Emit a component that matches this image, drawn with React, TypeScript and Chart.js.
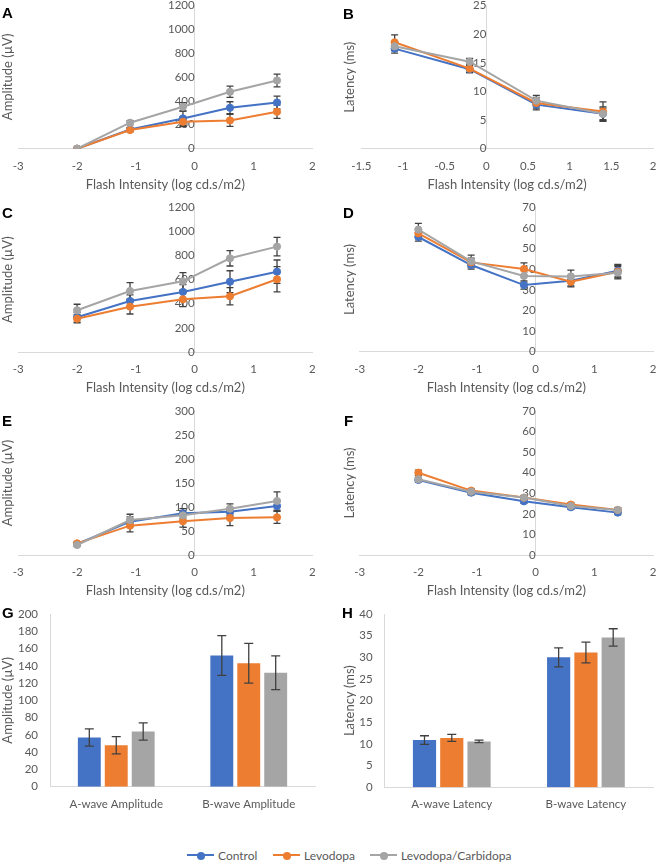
import React, { useEffect, useRef } from "react";
import { Chart, registerables } from "chart.js";

Chart.register(...registerables);
Chart.defaults.font.family = "Lato, 'Open Sans', sans-serif";

// ---------- data ----------
const seriesNames = ["Control", "Levodopa", "Levodopa/Carbidopa"];
const seriesColors = ["#4472C4", "#ED7D31", "#A5A5A5"];

const flashIntensity = [-2, -1.1, -0.2, 0.6, 1.4];
const flashIntensityB = [-1.1, -0.2, 0.6, 1.4];
const xTitle = "Flash Intensity (log cd.s/m2)";
const ampTitle = "Amplitude (\u00b5V)";
const latTitle = "Latency (ms)";

// Panel A – amplitude
const aControl = [0, 160, 253, 342, 386];
const aLevodopa = [0, 156, 225, 236, 309];
const aCombo = [0, 217, 350, 475, 570];
const aControlErr = [0, 15, 60, 50, 53];
const aLevodopaErr = [0, 15, 40, 50, 55];
const aComboErr = [0, 18, 35, 47, 53];

// Panel B – latency
const bControl = [17.5, 13.9, 7.7, 6.1];
const bLevodopa = [18.6, 14.0, 8.0, 6.5];
const bCombo = [17.9, 15.2, 8.4, 6.1];
const bControlErr = [0.8, 0.6, 0.9, 1.2];
const bLevodopaErr = [1.3, 0.7, 0.9, 1.7];
const bComboErr = [0.8, 0.6, 0.9, 1.0];

// Panel C – amplitude
const cControl = [288, 423, 498, 583, 666];
const cLevodopa = [276, 376, 437, 462, 603];
const cCombo = [346, 506, 586, 777, 874];
const cControlErr = [40, 50, 60, 91, 97];
const cLevodopaErr = [35, 61, 60, 72, 105];
const cComboErr = [50, 69, 72, 64, 77];

// Panel D – latency
const dControl = [55.6, 42.0, 32.3, 34.4, 39.3];
const dLevodopa = [57.4, 43.3, 40.1, 33.9, 38.8];
const dCombo = [59.2, 43.8, 36.7, 36.5, 38.3];
const dControlErr = [2, 2, 2, 2.5, 3];
const dLevodopaErr = [2, 2, 3, 2.5, 3];
const dComboErr = [3, 3, 3, 3, 3];

// Panel E – amplitude
const eControl = [22.9, 69.4, 86.8, 90.3, 102];
const eLevodopa = [24.3, 61.1, 70.1, 77.1, 78.5];
const eCombo = [20.8, 72.9, 82.6, 96.5, 112.5];
const eControlErr = [3, 10, 10, 8, 10];
const eLevodopaErr = [3, 13, 12, 16, 12.5];
const eComboErr = [3, 12, 10, 10, 19];

// Panel F – latency
const fControl = [36.5, 30.3, 26.1, 23.2, 20.6];
const fLevodopa = [40.0, 31.3, 27.9, 24.5, 21.9];
const fCombo = [36.8, 30.8, 27.9, 23.8, 21.9];
const fControlErr = [1, 1, 1, 1, 1];
const fLevodopaErr = [1.3, 1, 1, 1, 1];
const fComboErr = [1, 1, 1, 1, 1];

// Panel G – amplitude bars
const gCategories = ["A-wave Amplitude", "B-wave Amplitude"];
const gControl = [57, 152];
const gLevodopa = [48, 143];
const gCombo = [64, 132];
const gControlErr = [10, 23];
const gLevodopaErr = [10, 23];
const gComboErr = [10, 19.5];

// Panel H – latency bars
const hCategories = ["A-wave Latency", "B-wave Latency"];
const hControl = [10.9, 30.0];
const hLevodopa = [11.4, 31.1];
const hCombo = [10.6, 34.6];
const hControlErr = [1.0, 2.2];
const hLevodopaErr = [0.8, 2.4];
const hComboErr = [0.3, 2.0];

// ---------- styling ----------
const TEXT = "#595959";
const AXIS = "#d9d9d9";
const ERR = "#404040";
const TICK_FONT = { size: 11.5 };
const TITLE_FONT = { size: 13 };
const fmt = (v: any) => String(Number(Number(v).toFixed(3)));

const errorBarsPlugin = {
  id: "errorBars",
  beforeDatasetsDraw(chart: any) {
    const o = chart.options.plugins.errorBars || {};
    if (!o.above) drawErrors(chart, o.cap || 3.5);
  },
  afterDatasetsDraw(chart: any) {
    const o = chart.options.plugins.errorBars || {};
    if (o.above) drawErrors(chart, o.cap || 3.5);
  },
};

function drawErrors(chart: any, cap: number) {
  const ctx = chart.ctx;
  const yScale = chart.scales.y;
  ctx.save();
  ctx.strokeStyle = ERR;
  ctx.lineWidth = 1.3;
  chart.data.datasets.forEach((ds: any, i: number) => {
    const errs = ds.errors;
    if (!errs) return;
    const meta = chart.getDatasetMeta(i);
    meta.data.forEach((el: any, j: number) => {
      const e = errs[j];
      if (!e) return;
      const raw = ds.data[j];
      const v = typeof raw === "number" ? raw : raw.y;
      const x = el.x;
      const y1 = yScale.getPixelForValue(v + e);
      const y2 = yScale.getPixelForValue(v - e);
      ctx.beginPath();
      ctx.moveTo(x, y1);
      ctx.lineTo(x, y2);
      ctx.moveTo(x - cap, y1);
      ctx.lineTo(x + cap, y1);
      ctx.moveTo(x - cap, y2);
      ctx.lineTo(x + cap, y2);
      ctx.stroke();
    });
  });
  ctx.restore();
}

type Box = { left: number; top: number; w: number; h: number; cl: number; cr: number; ct: number; cb: number; tx: number };

const XH = 44; // x-axis band height (line panels)
const XB = 30; // x-axis band height (bar panels)
const HALF_TITLE = 7.8;

function lineConfig(box: Box, xs: number[], series: number[][], errs: number[][], xmin: number, xmax: number, xstep: number, ymax: number, ystep: number, yTitle: string) {
  const padL = box.tx - HALF_TITLE;
  return {
    type: "scatter",
    data: {
      datasets: series.map((s, i) => ({
        label: seriesNames[i],
        data: xs.map((x, j) => ({ x, y: s[j] })),
        errors: errs[i],
        showLine: true,
        borderColor: seriesColors[i],
        backgroundColor: seriesColors[i],
        pointBackgroundColor: seriesColors[i],
        pointBorderColor: seriesColors[i],
        borderWidth: 2,
        pointRadius: 3.6,
        pointBorderWidth: 1,
        order: 2 - i,
      })),
    },
    options: {
      responsive: false,
      animation: false,
      layout: { padding: { left: padL, right: box.w - box.cr, top: box.ct, bottom: box.h - box.cb - XH } },
      plugins: { legend: { display: false }, tooltip: { enabled: false }, errorBars: { above: false, cap: 3.5 } },
      scales: {
        x: {
          type: "linear",
          min: xmin,
          max: xmax,
          ticks: { stepSize: xstep, color: TEXT, font: TICK_FONT, padding: 10.4, callback: fmt },
          grid: { display: false, drawTicks: false },
          border: { color: AXIS },
          title: { display: true, text: xTitle, color: TEXT, font: TITLE_FONT, padding: { top: 0, bottom: 0 } },
          afterFit: (s: any) => { s.height = XH; s.paddingLeft = 0; s.paddingRight = 0; },
        },
        y: {
          type: "linear",
          position: { x: 0 },
          min: 0,
          max: ymax,
          ticks: { stepSize: ystep, color: TEXT, font: TICK_FONT, padding: 12, callback: fmt },
          grid: { display: false, drawTicks: false },
          border: { color: AXIS },
          afterFit: (s: any) => { s.paddingTop = 0; s.paddingBottom = 0; },
        },
        yt: {
          type: "linear",
          position: "left",
          min: 0,
          max: 1,
          ticks: { display: false },
          grid: { display: false, drawTicks: false },
          border: { display: false },
          title: { display: true, text: yTitle, color: TEXT, font: TITLE_FONT, padding: { top: 0, bottom: 0 } },
          afterFit: (s: any) => { s.width = box.cl - padL; s.paddingTop = 0; s.paddingBottom = 0; },
        },
      },
    },
    plugins: [errorBarsPlugin],
  };
}

function barConfig(box: Box, cats: string[], series: number[][], errs: number[][], ymax: number, ystep: number, yTitle: string) {
  const padL = box.tx - HALF_TITLE;
  return {
    type: "bar",
    data: {
      labels: cats,
      datasets: series.map((s, i) => ({
        label: seriesNames[i],
        data: s,
        errors: errs[i],
        backgroundColor: seriesColors[i],
        categoryPercentage: 0.61,
        barPercentage: 0.85,
      })),
    },
    options: {
      responsive: false,
      animation: false,
      layout: { padding: { left: padL, right: box.w - box.cr, top: box.ct, bottom: box.h - box.cb - XB } },
      plugins: { legend: { display: false }, tooltip: { enabled: false }, errorBars: { above: true, cap: 4.5 } },
      scales: {
        x: {
          ticks: { color: TEXT, font: TICK_FONT, padding: 10.4 },
          grid: { display: false, drawTicks: false },
          border: { color: AXIS },
          afterFit: (s: any) => { s.height = XB; s.paddingLeft = 0; s.paddingRight = 0; },
        },
        y: {
          min: 0,
          max: ymax,
          ticks: { stepSize: ystep, color: TEXT, font: TICK_FONT, padding: 12, callback: fmt },
          grid: { display: false, drawTicks: false },
          border: { color: AXIS },
          title: { display: true, text: yTitle, color: TEXT, font: TITLE_FONT, padding: { top: 0, bottom: 0 } },
          afterFit: (s: any) => { s.width = box.cl - padL; s.paddingTop = 0; s.paddingBottom = 0; },
        },
      },
    },
    plugins: [errorBarsPlugin],
  };
}

const boxes: Record<string, Box> = {
  A: { left: 0, top: 0, w: 329, h: 200, cl: 18.3, cr: 312.3, ct: 4.7, cb: 148.7, tx: 8 },
  B: { left: 329, top: 0, w: 329, h: 200, cl: 32.3, cr: 324, ct: 5.7, cb: 148.7, tx: 20.7 },
  C: { left: 0, top: 200, w: 329, h: 200, cl: 18.3, cr: 312.3, ct: 7.3, cb: 152, tx: 7.5 },
  D: { left: 329, top: 200, w: 329, h: 200, cl: 30.7, cr: 324, ct: 7.3, cb: 151.7, tx: 20.7 },
  E: { left: 0, top: 400, w: 329, h: 200, cl: 18.3, cr: 312.3, ct: 11, cb: 155, tx: 8 },
  F: { left: 329, top: 400, w: 329, h: 200, cl: 30.7, cr: 324, ct: 11, cb: 155, tx: 20.7 },
  G: { left: 0, top: 600, w: 329, h: 220, cl: 50, cr: 315, ct: 14, cb: 186.7, tx: 8 },
  H: { left: 329, top: 600, w: 329, h: 220, cl: 55.7, cr: 324, ct: 14, cb: 187.3, tx: 20.7 },
};

const panelLabels = [
  { t: "A", x: 2, y: 5 },
  { t: "B", x: 343, y: 6 },
  { t: "C", x: 2, y: 205 },
  { t: "D", x: 343, y: 205 },
  { t: "E", x: 2, y: 413 },
  { t: "F", x: 344, y: 413 },
  { t: "G", x: 2, y: 605 },
  { t: "H", x: 342, y: 605 },
];

function buildConfigs(): Record<string, any> {
  return {
    A: lineConfig(boxes.A, flashIntensity, [aControl, aLevodopa, aCombo], [aControlErr, aLevodopaErr, aComboErr], -3, 2, 1, 1200, 200, ampTitle),
    B: lineConfig(boxes.B, flashIntensityB, [bControl, bLevodopa, bCombo], [bControlErr, bLevodopaErr, bComboErr], -1.5, 2, 0.5, 25, 5, latTitle),
    C: lineConfig(boxes.C, flashIntensity, [cControl, cLevodopa, cCombo], [cControlErr, cLevodopaErr, cComboErr], -3, 2, 1, 1200, 200, ampTitle),
    D: lineConfig(boxes.D, flashIntensity, [dControl, dLevodopa, dCombo], [dControlErr, dLevodopaErr, dComboErr], -3, 2, 1, 70, 10, latTitle),
    E: lineConfig(boxes.E, flashIntensity, [eControl, eLevodopa, eCombo], [eControlErr, eLevodopaErr, eComboErr], -3, 2, 1, 300, 50, ampTitle),
    F: lineConfig(boxes.F, flashIntensity, [fControl, fLevodopa, fCombo], [fControlErr, fLevodopaErr, fComboErr], -3, 2, 1, 70, 10, latTitle),
    G: barConfig(boxes.G, gCategories, [gControl, gLevodopa, gCombo], [gControlErr, gLevodopaErr, gComboErr], 200, 20, ampTitle),
    H: barConfig(boxes.H, hCategories, [hControl, hLevodopa, hCombo], [hControlErr, hLevodopaErr, hComboErr], 40, 5, latTitle),
  };
}

const panelKeys = ["A", "B", "C", "D", "E", "F", "G", "H"];
const legendX = [187, 273, 370];

export default function App() {
  const refs = useRef<Record<string, HTMLCanvasElement | null>>({});

  useEffect(() => {
    const configs = buildConfigs();
    const charts: Chart[] = [];
    panelKeys.forEach((k) => {
      const c = refs.current[k];
      if (c) charts.push(new Chart(c, configs[k] as any));
    });
    return () => charts.forEach((ch) => ch.destroy());
  }, []);

  return (
    <div style={{ position: "absolute", left: 0, top: 0, width: 658, height: 862, background: "#fff", overflow: "hidden" }}>
      {panelKeys.map((k) => {
        const b = boxes[k];
        return (
          <canvas
            key={k}
            ref={(el) => { refs.current[k] = el; }}
            width={b.w}
            height={b.h}
            style={{ position: "absolute", left: b.left, top: b.top, width: b.w, height: b.h }}
          />
        );
      })}
      {panelLabels.map((p) => (
        <div
          key={p.t}
          style={{ position: "absolute", left: p.x, top: p.y, font: "bold 15px 'Liberation Sans', Arial, sans-serif", lineHeight: "15px", color: "#000" }}
        >
          {p.t}
        </div>
      ))}
      {seriesNames.map((n, i) => (
        <div
          key={n}
          style={{ position: "absolute", left: legendX[i], top: 846, height: 18, display: "flex", alignItems: "center", font: "12px Lato, sans-serif", color: TEXT }}
        >
          <span style={{ position: "relative", width: 27, height: 18, display: "inline-block" }}>
            <span style={{ position: "absolute", left: 0, top: 8, width: 27, height: 2, background: seriesColors[i] }} />
            <span style={{ position: "absolute", left: 9.5, top: 5.5, width: 8, height: 8, borderRadius: 4, background: seriesColors[i] }} />
          </span>
          <span style={{ marginLeft: 4 }}>{n}</span>
        </div>
      ))}
    </div>
  );
}
